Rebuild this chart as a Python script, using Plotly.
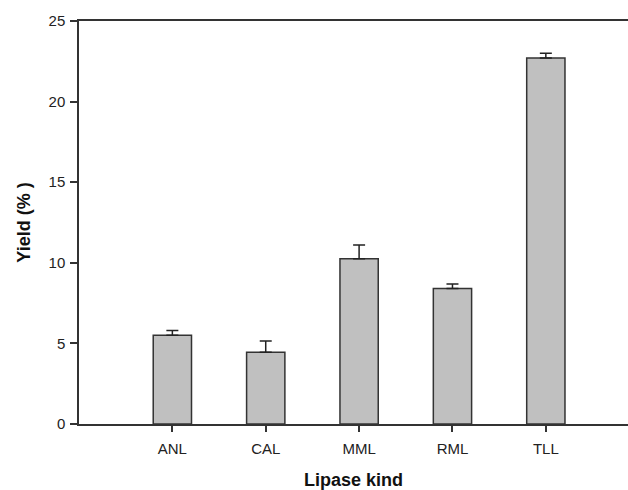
import plotly.graph_objects as go

categories = ["ANL", "CAL", "MML", "RML", "TLL"]
yield_pct = [5.5, 4.45, 10.25, 8.4, 22.7]
yield_err = [0.3, 0.7, 0.85, 0.28, 0.3]
x_pos = [1, 2, 3, 4, 5]
y_ticks = [0, 5, 10, 15, 20, 25]

fig = go.Figure()
fig.add_trace(go.Bar(
    x=x_pos, y=yield_pct, width=0.41,
    marker=dict(color="#c0c0c0", line=dict(color="#333333", width=1.5)),
    error_y=dict(type="data", array=yield_err, arrayminus=[0]*len(yield_err),
                 symmetric=False, color="#222222", thickness=1.5, width=6),
))

font_family = "Liberation Sans, Arial, sans-serif"
fig.update_layout(
    width=628, height=490,
    margin=dict(l=79, r=0, t=21, b=66, autoexpand=False),
    paper_bgcolor="white", plot_bgcolor="white",
    showlegend=False,
    font=dict(family=font_family, size=15, color="#222222"),
    xaxis=dict(
        range=[0, 5.88], tickmode="array", tickvals=x_pos, ticktext=categories,
        showline=True, linecolor="#333333", linewidth=1.5, mirror=True,
        ticks="outside", ticklen=6, tickwidth=1.5, tickcolor="#333333",
        ticklabelstandoff=4,
        showgrid=False, zeroline=False, automargin=False,
        title=dict(text="<b>Lipase kind</b>", font=dict(size=18, color="#111111"), standoff=27),
    ),
    yaxis=dict(
        range=[0, 25], tickmode="array", tickvals=y_ticks,
        showline=True, linecolor="#333333", linewidth=1.5,
        ticks="outside", ticklen=7, tickwidth=1.5, tickcolor="#333333",
        ticklabelstandoff=2,
        showgrid=False, zeroline=False, automargin=False,
        title=dict(text="<b>Yield (% )</b>", font=dict(size=18, color="#111111"), standoff=13),
    ),
)
fig.write_html("out.html", config={"displayModeBar": False},
               post_script="document.body.style.margin='0';document.body.style.overflow='hidden';")
